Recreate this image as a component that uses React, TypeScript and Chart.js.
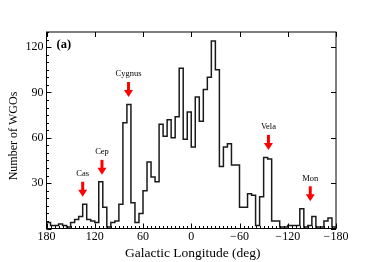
import React, { useEffect, useRef } from "react";
import { Chart, registerables } from "chart.js";

Chart.register(...registerables);

// Galactic longitude bin left edges (deg), 5-degree bins from 180 down to -180
const binLeftEdges = [
  180, 175, 170, 165, 160, 155, 150, 145, 140, 135, 130, 125,
  120, 115, 110, 105, 100, 95, 90, 85, 80, 75, 70, 65,
  60, 55, 50, 45, 40, 35, 30, 25, 20, 15, 10, 5,
  0, -5, -10, -15, -20, -25, -30, -35, -40, -45, -50, -55,
  -60, -65, -70, -75, -80, -85, -90, -95, -100, -105, -110, -115,
  -120, -125, -130, -135, -140, -145, -150, -155, -160, -165, -170, -175,
];
const binEndEdge = -180;

// Number of WGOs per bin
const counts = [
  4, 2, 2, 3, 2, 1, 4, 6, 8, 16, 6, 5,
  4, 31, 14, 1, 4, 5, 16, 70, 82, 17, 4, 10,
  25, 44, 34, 31, 69, 61, 72, 60, 74, 106, 59, 77,
  54, 87, 71, 92, 100, 124, 105, 41, 54, 56, 42, 42,
  14, 14, 23, 22, 2, 21, 47, 46, 5, 5, 1, 1,
  2, 2, 2, 13, 1, 2, 8, 1, 1, 5, 7, 1,
];

const xTicks = [180, 120, 60, 0, -60, -120, -180];
const yTicks = [30, 60, 90, 120];

// Region annotations (arrow tip at longitude / count)
const annLabels = ["Cas", "Cep", "Cygnus", "Vela", "Mon"];
const annLongitude = [135, 111, 78, -96, -148];
const annTipValue = [21, 35.5, 87, 52, 18];

const panelLabel = "(a)";
const xTitle = "Galactic Longitude (deg)";
const yTitle = "Number of WGOs";

const SERIF = '"Liberation Serif", "DejaVu Serif", serif';

const fmt = (v: number) => (v < 0 ? "\u2212" + Math.abs(v) : String(v));

const decorPlugin = {
  id: "decor",
  afterDraw(chart: any) {
    const { ctx, chartArea: a, scales } = chart;
    const xs = scales.x;
    const ys = scales.y;
    ctx.save();
    // frame
    ctx.strokeStyle = "#000";
    ctx.lineWidth = 1;
    ctx.strokeRect(a.left, a.top, a.right - a.left, a.bottom - a.top);

    // ticks
    ctx.beginPath();
    for (let v = -180; v <= 180; v += 5) {
      const px = Math.round(xs.getPixelForValue(v)) + 0.5;
      const major = v % 60 === 0;
      const len = major ? 5 : 2.5;
      ctx.moveTo(px, a.bottom);
      ctx.lineTo(px, a.bottom - len);
      if (major) {
        ctx.moveTo(px, a.top);
        ctx.lineTo(px, a.top + len);
      }
    }
    for (let v = 0; v <= 130; v += 5) {
      const py = Math.round(ys.getPixelForValue(v)) + 0.5;
      const major = v % 30 === 0;
      const len = major ? 5 : 2.5;
      ctx.moveTo(a.left, py);
      ctx.lineTo(a.left + len, py);
      if (major) {
        ctx.moveTo(a.right, py);
        ctx.lineTo(a.right - len, py);
      }
    }
    ctx.stroke();

    // annotations
    for (let i = 0; i < annLabels.length; i++) {
      const x = xs.getPixelForValue(annLongitude[i]);
      const tip = ys.getPixelForValue(annTipValue[i]);
      const top = tip - 15;
      ctx.fillStyle = "#ff0000";
      ctx.fillRect(x - 1.5, top, 3, 9);
      ctx.beginPath();
      ctx.moveTo(x - 4.5, tip - 7);
      ctx.lineTo(x + 4.5, tip - 7);
      ctx.lineTo(x, tip);
      ctx.closePath();
      ctx.fill();
      ctx.fillStyle = "#000";
      ctx.font = `8.5px ${SERIF}`;
      ctx.textAlign = "center";
      ctx.textBaseline = "middle";
      ctx.fillText(annLabels[i], x, top - 8);
    }

    // panel label
    ctx.fillStyle = "#000";
    ctx.font = `bold 12.5px ${SERIF}`;
    ctx.textAlign = "left";
    ctx.textBaseline = "middle";
    ctx.fillText(panelLabel, a.left + 10, a.top + 12.5);

    // axis titles
    ctx.font = `13.5px ${SERIF}`;
    ctx.textAlign = "center";
    ctx.textBaseline = "middle";
    ctx.fillText(xTitle, (a.left + a.right) / 2 + 1.5, 253);
    ctx.save();
    ctx.translate(14, 136);
    ctx.rotate(-Math.PI / 2);
    ctx.font = `12px ${SERIF}`;
    ctx.fillText(yTitle, 0, 0);
    ctx.restore();

    ctx.restore();
  },
};

export default function App() {
  const ref = useRef<HTMLCanvasElement | null>(null);
  useEffect(() => {
    if (!ref.current) return;
    const points = binLeftEdges.map((x, i) => ({ x, y: counts[i] }));
    points.push({ x: binEndEdge, y: counts[counts.length - 1] });
    const chart = new Chart(ref.current, {
      type: "line",
      data: {
        datasets: [
          {
            data: points,
            stepped: "before",
            borderColor: "#1a1a1a",
            borderWidth: 1.5,
            pointRadius: 0,
            fill: false,
          },
        ],
      },
      options: {
        animation: false,
        responsive: false,
        devicePixelRatio: 1,
        layout: { padding: { left: 0, top: 32, right: 38, bottom: 0 } },
        plugins: { legend: { display: false }, tooltip: { enabled: false } },
        scales: {
          x: {
            type: "linear",
            reverse: true,
            min: -180,
            max: 180,
            grid: { display: false, drawTicks: false },
            border: { display: false },
            afterBuildTicks: (s: any) => {
              s.ticks = xTicks.map((v) => ({ value: v }));
            },
            afterFit: (s: any) => {
              s.height = 33.5;
            },
            ticks: {
              autoSkip: false,
              maxRotation: 0,
              padding: 1,
              color: "#000",
              font: { family: SERIF, size: 12 },
              callback: (v: any) => fmt(Number(v)),
            },
          },
          y: {
            type: "linear",
            min: 0,
            max: 130,
            grid: { display: false, drawTicks: false },
            border: { display: false },
            afterBuildTicks: (s: any) => {
              s.ticks = yTicks.map((v) => ({ value: v }));
            },
            afterFit: (s: any) => {
              s.width = 46.5;
            },
            ticks: {
              padding: 3,
              color: "#000",
              font: { family: SERIF, size: 12 },
              callback: (v: any) => fmt(Number(v)),
            },
          },
        },
      },
      plugins: [decorPlugin],
    });
    return () => chart.destroy();
  }, []);
  return (
    <div style={{ position: "fixed", left: 0, top: 0, width: 374, height: 262, background: "#fff" }}>
      <canvas ref={ref} width={374} height={262} style={{ display: "block" }} />
    </div>
  );
}
